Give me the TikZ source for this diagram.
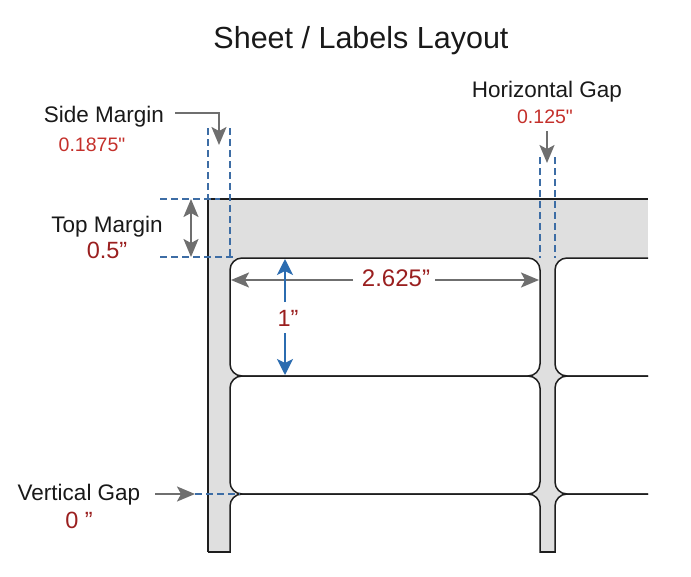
\documentclass[tikz,border=0pt]{standalone}
\usepackage{fontspec}
\setmainfont{Liberation Sans}
\newfontfamily\rawfont{Liberation Sans}
\usetikzlibrary{arrows.meta}
\definecolor{sheetgray}{HTML}{DFDFDF}
\definecolor{arrgray}{HTML}{6F6F6F}
\definecolor{dashblue}{HTML}{3D6DA5}
\definecolor{arrblue}{HTML}{2B6CB0}
\definecolor{lightred}{HTML}{C4302B}
\definecolor{darkred}{HTML}{9A1F1F}
\definecolor{outline}{HTML}{1E1E1E}
\tikzset{
  gtip/.tip={Stealth[length=18pt,width=15pt,inset=4pt]},
  btip/.tip={Stealth[length=16pt,width=16pt,inset=4pt]},
  txt/.style={inner sep=0pt, anchor=base, text=black!90, font=\fontsize{22.5}{26}\selectfont},
  smallred/.style={inner sep=0pt, anchor=base, text=lightred, font=\rawfont\fontsize{19.5}{23}\selectfont},
  bigred/.style={inner sep=0pt, anchor=base, text=darkred, font=\fontsize{23.5}{27}\selectfont},
  garrow/.style={draw=arrgray, line width=2pt, -gtip},
  gdarrow/.style={draw=arrgray, line width=2pt, gtip-gtip},
  barrow/.style={draw=arrblue, line width=2pt, -btip},
  bdash/.style={draw=dashblue, line width=1.3pt, dash pattern=on 7pt off 4pt},
  labelbox/.style={fill=white, draw=outline, line width=1.5pt, rounded corners=12pt},
}
\begin{document}
\begin{tikzpicture}[x=1pt,y=-1pt]
\useasboundingbox (0,0) rectangle (691,576);
% title
\node[inner sep=0pt, anchor=base, font=\fontsize{30.5}{34}\selectfont, text=black!90] (title) at (361,48) {Sheet / Labels Layout};
% sheet
\fill[sheetgray] (208,199) rectangle (648,552);
\draw[gray!35, line width=1pt] (208,552.5) -- (648,552.5);
\begin{scope}
\clip (200,190) rectangle (648,552);
\foreach \r in {258,376,494}{
  \draw[labelbox] (230,\r) rectangle (540,\r+118);
  \draw[labelbox] (555,\r) rectangle (865,\r+118);
}
\end{scope}
\draw[outline, line width=1.5pt] (208,552) -- (208,199) -- (648,199);
\draw[outline, line width=1.5pt] (208,552) -- (230,552);
\draw[outline, line width=1.5pt] (540,552) -- (555,552);
% texts
\node[txt] (sidem) at (104,122) {Side Margin};
\node[smallred] (sidev) at (92,151) {0.1875"};
\node[txt] (topm) at (107,232) {Top Margin};
\node[bigred] (topv) at (107,258) {0.5”};
\node[txt] (hgap) at (547,97) {Horizontal Gap};
\node[smallred] (hgapv) at (545,123) {0.125"};
\node[txt] (vgap) at (79,500) {Vertical Gap};
\node[bigred] (vgapv) at (79,528) {0 ”};
\node[inner sep=0pt, anchor=base, text=darkred, font=\fontsize{24}{28}\selectfont] (wval) at (396,286) {2.625”};
\node[bigred] (hval) at (288,326) {1”};
% side margin
\coordinate (sm1) at (175,113);
\coordinate (sm2) at (219,113);
\coordinate (sm3) at (219,145);
\draw[garrow] (sm1) -- (sm2) -- (sm3);
\coordinate (sd1a) at (208,128); \coordinate (sd1b) at (208,199);
\coordinate (sd2a) at (230,128); \coordinate (sd2b) at (230,258);
\draw[bdash] (sd1a) -- (sd1b);
\draw[bdash] (sd2a) -- (sd2b);
% top margin
\coordinate (tm1a) at (160,199); \coordinate (tm1b) at (220,199);
\coordinate (tm2a) at (160,257); \coordinate (tm2b) at (236,257);
\draw[bdash] (tm1a) -- (tm1b);
\draw[bdash] (tm2a) -- (tm2b);
\coordinate (ta) at (191,199); \coordinate (tb) at (191,257);
\draw[gdarrow] (ta) -- (tb);
% horizontal gap
\coordinate (hg1) at (547,131); \coordinate (hg2) at (547,163);
\draw[garrow] (hg1) -- (hg2);
\coordinate (hd1a) at (540,157); \coordinate (hd1b) at (540,258);
\coordinate (hd2a) at (555,157); \coordinate (hd2b) at (555,258);
\draw[bdash] (hd1a) -- (hd1b);
\draw[bdash] (hd2a) -- (hd2b);
% width arrow
\coordinate (wl) at (231,280); \coordinate (wr) at (539,280);
\coordinate (wtl) at (353,280); \coordinate (wtr) at (435,280);
\draw[garrow] (wtl) -- (wl);
\draw[garrow] (wtr) -- (wr);
% height arrow
\coordinate (h1) at (285,259); \coordinate (h2) at (285,302);
\coordinate (h3) at (285,333); \coordinate (h4) at (285,375);
\draw[barrow] (h2) -- (h1);
\draw[barrow] (h3) -- (h4);
% vertical gap
\coordinate (vg1) at (155,494); \coordinate (vg2) at (195,494);
\coordinate (vg3) at (240,494);
\draw[garrow] (vg1) -- (vg2);
\draw[bdash] (vg2) -- (vg3);
\end{tikzpicture}
\end{document}
